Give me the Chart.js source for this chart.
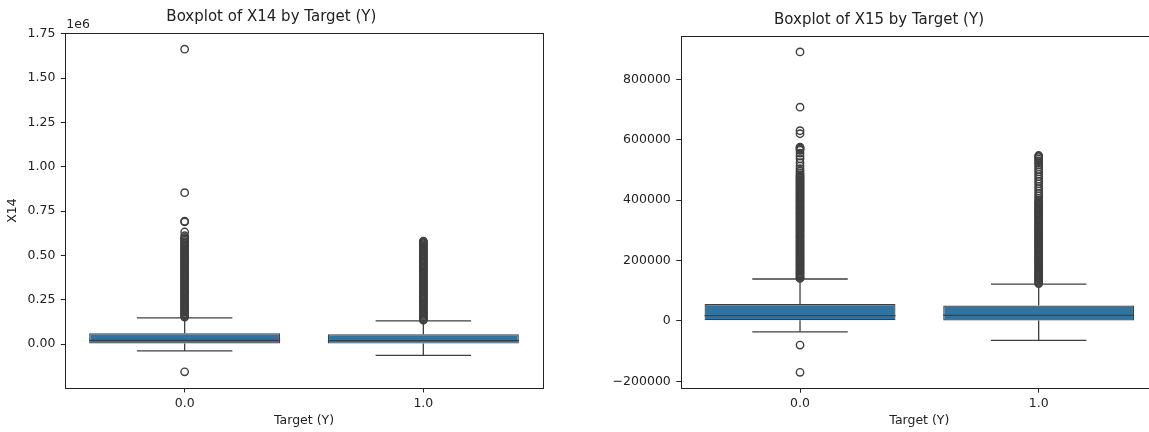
<!DOCTYPE html>
<html>
<head>
<meta charset="utf-8">
<script src="https://cdn.jsdelivr.net/npm/chart.js@4.4.0/dist/chart.umd.min.js"></script>
<style>
  html, body { margin: 0; padding: 0; background: #fff; overflow: hidden; width: 1149px; height: 432px; }
  #left { position: absolute; left: 0; top: 0; }
  #right { position: absolute; left: 600px; top: 0; }
</style>
</head>
<body>
<canvas id="left" width="560" height="432"></canvas>
<canvas id="right" width="600" height="432"></canvas>
<script>
// Categories (Target Y) and their positions on the x axis
const categories = ['0.0', '1.0'];
const categoryPos = [0, 1];

// X14 box stats per category
const x14Q1 = [2700, 2400];
const x14Median = [20000, 19000];
const x14Q3 = [60000, 55000];
const x14WhiskerLow = [-39000, -64000];
const x14WhiskerHigh = [148000, 131000];
const x14Fliers0 = [1664000, 854000, 693000, 689000, 632000, 611000, 601000, 594000, 586000, 577000,
  569000, 561000, 553000, 546000, 538000, 531000, 523000, 516000, 508000, 501000, 494000, 487000,
  480000, 472000, 465000, 458000, 451000, 444000, 437000, 430000, 422000, 415000, 408000, 401000,
  394000, 387000, 380000, 372000, 365000, 358000, 351000, 344000, 337000, 330000, 322000, 315000,
  308000, 301000, 294000, 287000, 280000, 272000, 265000, 258000, 251000, 244000, 237000, 230000,
  222000, 215000, 208000, 201000, 194000, 187000, 180000, 172000, 165000, 158000, 152000, -157000];
const x14Fliers1 = [581000, 577000, 572000, 566000, 560000, 553000, 546000, 539000, 532000, 525000,
  518000, 511000, 504000, 497000, 490000, 483000, 476000, 469000, 462000, 455000, 448000, 441000,
  434000, 427000, 420000, 413000, 406000, 399000, 392000, 385000, 378000, 371000, 364000, 357000,
  350000, 343000, 336000, 329000, 322000, 315000, 308000, 301000, 294000, 287000, 280000, 273000,
  266000, 259000, 252000, 245000, 238000, 231000, 224000, 217000, 210000, 203000, 196000, 189000,
  182000, 175000, 168000, 161000, 154000, 147000, 140000, 134000];
const x14Ticks = [0, 250000, 500000, 750000, 1000000, 1250000, 1500000, 1750000];
const x14TickLabels = ['0.00', '0.25', '0.50', '0.75', '1.00', '1.25', '1.50', '1.75'];

// X15 box stats per category
const x15Q1 = [2300, 1800];
const x15Median = [18000, 18500];
const x15Q3 = [56000, 51000];
const x15WhiskerLow = [-36000, -64000];
const x15WhiskerHigh = [139000, 122000];
const x15Fliers0 = [891000, 708000, 630000, 620000, 576000, 573000, 569000, 565000, 556000, 546000,
  537000, 524000, 513000, 504000, 497000, 490000, 484000, 480000, 476000, 472000, 468000, 464000,
  460000, 456000, 452000, 448000, 444000, 440000, 436000, 432000, 428000, 424000, 420000, 416000,
  412000, 408000, 404000, 400000, 396000, 392000, 388000, 384000, 380000, 376000, 372000, 368000,
  364000, 360000, 356000, 352000, 348000, 344000, 340000, 336000, 332000, 328000, 324000, 320000,
  316000, 312000, 308000, 304000, 300000, 296000, 292000, 288000, 284000, 280000, 276000, 272000,
  268000, 264000, 260000, 256000, 252000, 248000, 244000, 240000, 236000, 232000, 228000, 224000,
  220000, 216000, 212000, 208000, 204000, 200000, 196000, 192000, 188000, 184000, 180000, 176000,
  172000, 168000, 164000, 160000, 156000, 152000, 148000, 144000, 141000, -80000, -170000];
const x15Fliers1 = [548000, 545000, 541000, 536000, 530000, 524000, 517000, 510000, 502000, 494000,
  486000, 478000, 470000, 462000, 454000, 446000, 438000, 430000, 422000, 414000, 406000, 399000,
  395000, 391000, 387000, 383000, 379000, 375000, 371000, 367000, 363000, 359000, 355000, 351000,
  347000, 343000, 339000, 335000, 331000, 327000, 323000, 319000, 315000, 311000, 307000, 303000,
  299000, 295000, 291000, 287000, 283000, 279000, 275000, 271000, 267000, 263000, 259000, 255000,
  251000, 247000, 243000, 239000, 235000, 231000, 227000, 223000, 219000, 215000, 211000, 207000,
  203000, 199000, 195000, 191000, 187000, 183000, 179000, 175000, 171000, 167000, 163000, 159000,
  155000, 151000, 147000, 143000, 139000, 135000, 131000, 127000, 124000];
const x15Ticks = [-200000, 0, 200000, 400000, 600000, 800000];
const x15TickLabels = ['\u2212200000', '0', '200000', '400000', '600000', '800000'];

const BOX_FILL = '#3274a1';
const LINE = '#3f3f3f';
const INK = '#222';
const FONT = "'DejaVu Sans', sans-serif";

Chart.defaults.font.family = FONT;
Chart.defaults.color = INK;

function seg(points) {
  return {
    type: 'scatter', showLine: true, data: points,
    borderColor: LINE, borderWidth: 1.3, pointRadius: 0, order: 2
  };
}

function boxDatasets(q1, med, q3, lo, hi, fliers) {
  const sets = [{
    type: 'bar',
    data: categoryPos.map((x, i) => ({ x, y: [q1[i], q3[i]] })),
    backgroundColor: BOX_FILL, borderColor: LINE, borderWidth: 1.2, borderSkipped: false,
    barPercentage: 0.8, categoryPercentage: 1, order: 3
  }];
  categoryPos.forEach((x, i) => {
    sets.push(seg([{ x, y: q3[i] }, { x, y: hi[i] }]));
    sets.push(seg([{ x, y: q1[i] }, { x, y: lo[i] }]));
    sets.push(seg([{ x: x - 0.2, y: hi[i] }, { x: x + 0.2, y: hi[i] }]));
    sets.push(seg([{ x: x - 0.2, y: lo[i] }, { x: x + 0.2, y: lo[i] }]));
    sets.push(seg([{ x: x - 0.4, y: med[i] }, { x: x + 0.4, y: med[i] }]));
  });
  const pts = [];
  fliers.forEach((list, i) => list.forEach(v => pts.push({ x: categoryPos[i], y: v })));
  sets.push({
    type: 'scatter', data: pts, pointStyle: 'circle', pointRadius: 3.7,
    borderColor: LINE, pointBorderColor: LINE, borderWidth: 1.4,
    backgroundColor: 'rgba(0,0,0,0)', order: 1
  });
  return sets;
}

// draws the full axes frame
const framePlugin = {
  id: 'frame',
  afterDraw(chart) {
    const { ctx, chartArea: a } = chart;
    ctx.save();
    ctx.strokeStyle = INK;
    ctx.lineWidth = 1;
    const l = Math.round(a.left) + 0.5, t = Math.round(a.top) + 0.5;
    ctx.strokeRect(l, t, Math.round(a.right) - Math.round(a.left), Math.round(a.bottom) - Math.round(a.top));
    const off = chart.options.plugins.frame && chart.options.plugins.frame.offsetText;
    if (off) {
      ctx.fillStyle = INK;
      ctx.font = '12.5px ' + FONT;
      ctx.textAlign = 'left';
      ctx.textBaseline = 'alphabetic';
      ctx.fillText(off, a.left + 1, a.top - 5.5);
    }
    ctx.restore();
  }
};

function makeChart(id, o) {
  return new Chart(document.getElementById(id), {
    type: 'scatter',
    data: { datasets: boxDatasets(o.q1, o.med, o.q3, o.lo, o.hi, o.fliers) },
    options: {
      responsive: false, animation: false, devicePixelRatio: 1,
      layout: { padding: { left: 0, right: o.padRight, top: 0, bottom: 0 } },
      plugins: {
        legend: { display: false },
        tooltip: { enabled: false },
        title: {
          display: true, text: o.title, color: INK,
          font: { size: 15, weight: 'normal', lineHeight: 1.2 },
          padding: { top: o.titleTop, bottom: o.titleBottom }
        },
        frame: { offsetText: o.offsetText }
      },
      scales: {
        x: {
          type: 'linear', min: -0.5, max: 1.5, offset: false,
          afterBuildTicks: ax => { ax.ticks = categoryPos.map(v => ({ value: v })); },
          afterFit: ax => { ax.height = o.xHeight; },
          ticks: { callback: (v, i) => categories[i], font: { size: 12.5 }, padding: 3.6, color: INK, maxRotation: 0 },
          grid: { offset: false, drawOnChartArea: false, drawTicks: true, tickLength: 4.4, color: INK, lineWidth: 1 },
          border: { display: false },
          title: { display: true, text: 'Target (Y)', font: { size: 12.5, lineHeight: 1.2 }, padding: { top: 0, bottom: 3.5 }, color: INK }
        },
        y: {
          type: 'linear', min: o.yMin, max: o.yMax,
          afterBuildTicks: ax => { ax.ticks = o.ticks.map(v => ({ value: v })); },
          afterFit: ax => { ax.width = o.yWidth; },
          ticks: { callback: (v, i) => o.tickLabels[i], font: { size: 12.5 }, padding: 5.5, color: INK },
          grid: { drawOnChartArea: false, drawTicks: true, tickLength: 4.4, color: INK, lineWidth: 1 },
          border: { display: false },
          title: { display: !!o.yTitle, text: o.yTitle || '', font: { size: 12.5, lineHeight: 1.2 }, padding: { top: 5.5, bottom: 0 }, color: INK }
        }
      }
    },
    plugins: [framePlugin]
  });
}

makeChart('left', {
  title: 'Boxplot of X14 by Target (Y)', yTitle: 'X14', offsetText: '1e6',
  q1: x14Q1, med: x14Median, q3: x14Q3, lo: x14WhiskerLow, hi: x14WhiskerHigh,
  fliers: [x14Fliers0, x14Fliers1],
  ticks: x14Ticks, tickLabels: x14TickLabels, yMin: -248300, yMax: 1755200,
  yWidth: 65.3, xHeight: 44, padRight: 17.3, titleTop: 8.3, titleBottom: 6.7
});

makeChart('right', {
  title: 'Boxplot of X15 by Target (Y)', yTitle: null, offsetText: null,
  q1: x15Q1, med: x15Median, q3: x15Q3, lo: x15WhiskerLow, hi: x15WhiskerHigh,
  fliers: [x15Fliers0, x15Fliers1],
  ticks: x15Ticks, tickLabels: x15TickLabels, yMin: -223000, yMax: 944700,
  yWidth: 80.7, xHeight: 43.7, padRight: 42, titleTop: 11, titleBottom: 6.7
});
</script>
</body>
</html>
